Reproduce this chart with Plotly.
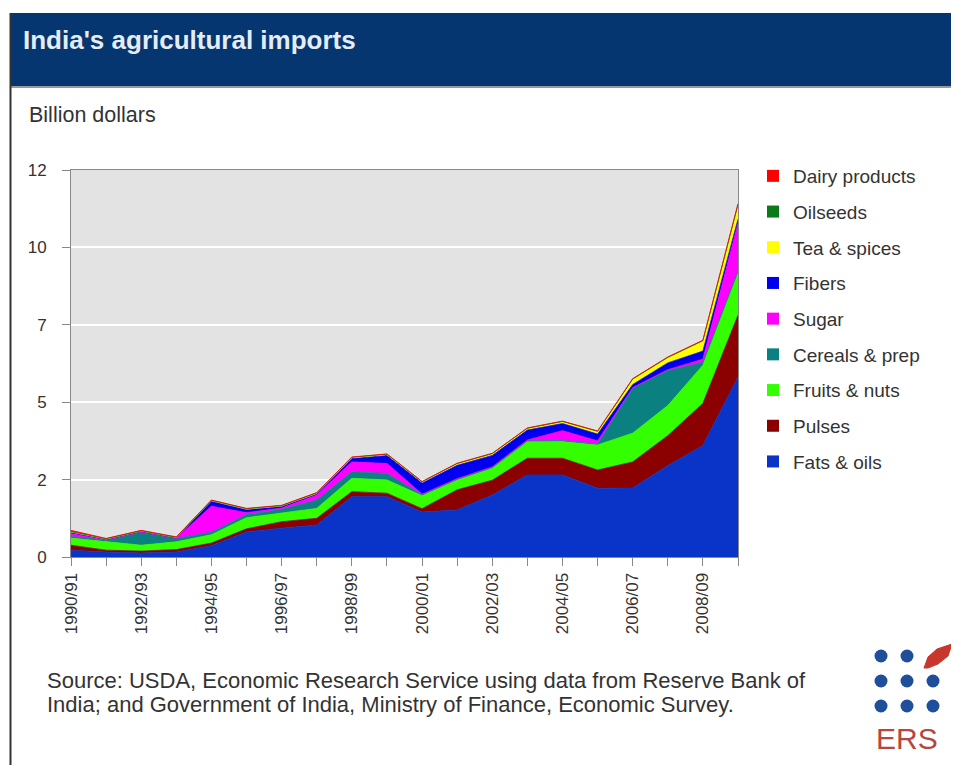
import plotly.graph_objects as go

years = ['1990/91', '1991/92', '1992/93', '1993/94', '1994/95', '1995/96', '1996/97',
         '1997/98', '1998/99', '1999/00', '2000/01', '2001/02', '2002/03', '2003/04',
         '2004/05', '2005/06', '2006/07', '2007/08', '2008/09', '2009/10']

fats_oils = [0.22, 0.16, 0.13, 0.16, 0.36, 0.81, 0.93, 1.03, 1.95, 1.95,
             1.45, 1.52, 2.00, 2.65, 2.65, 2.22, 2.23, 2.95, 3.60, 5.81]
pulses = [0.16, 0.06, 0.06, 0.08, 0.09, 0.10, 0.21, 0.22, 0.16, 0.11,
          0.11, 0.65, 0.48, 0.54, 0.54, 0.59, 0.84, 0.97, 1.36, 2.00]
fruits_nuts = [0.23, 0.27, 0.19, 0.25, 0.27, 0.36, 0.27, 0.32, 0.43, 0.43,
               0.42, 0.32, 0.39, 0.54, 0.54, 0.81, 0.93, 0.97, 1.23, 1.36]
cereals = [0.05, 0.05, 0.43, 0.11, 0.08, 0.10, 0.13, 0.27, 0.21, 0.21,
           0.03, 0.02, 0.02, 0.02, 0.03, 0.03, 1.45, 1.13, 0.10, 0.06]
sugar = [0.10, 0.01, 0.00, 0.00, 0.84, 0.06, 0.04, 0.16, 0.32, 0.32,
         0.02, 0.02, 0.02, 0.03, 0.32, 0.10, 0.02, 0.03, 0.10, 1.55]
fibers = [0.03, 0.02, 0.02, 0.02, 0.16, 0.10, 0.05, 0.03, 0.11, 0.26,
          0.36, 0.43, 0.37, 0.32, 0.23, 0.22, 0.10, 0.22, 0.26, 0.13]
tea_spices = [0.02, 0.01, 0.01, 0.01, 0.02, 0.02, 0.02, 0.03, 0.03, 0.03,
              0.03, 0.05, 0.05, 0.05, 0.06, 0.08, 0.16, 0.16, 0.32, 0.45]
oilseeds = [0.01, 0.01, 0.01, 0.01, 0.01, 0.01, 0.01, 0.01, 0.01, 0.01,
            0.01, 0.01, 0.01, 0.01, 0.01, 0.01, 0.02, 0.02, 0.02, 0.03]
dairy = [0.04, 0.01, 0.01, 0.01, 0.01, 0.01, 0.01, 0.01, 0.01, 0.01,
         0.01, 0.01, 0.01, 0.01, 0.01, 0.01, 0.01, 0.01, 0.01, 0.02]

y_tickvals = [0, 2.5, 5, 7.5, 10, 12.5]
y_ticktext = ['0', '2', '5', '7', '10', '12']

series = [
    ('Fats & oils', fats_oils, '#0a33c8'),
    ('Pulses', pulses, '#8b0000'),
    ('Fruits & nuts', fruits_nuts, '#33ff00'),
    ('Cereals & prep', cereals, '#0a8080'),
    ('Sugar', sugar, '#ff00ff'),
    ('Fibers', fibers, '#0000ee'),
    ('Tea & spices', tea_spices, '#ffff00'),
    ('Oilseeds', oilseeds, '#0a7a1a'),
    ('Dairy products', dairy, '#ff0000'),
]

# the page body has an 8px margin, so the figure sits at (8, 8) in the window
OFF = 8
SW, SH = 959, 765            # window size
L, R, T, B = 71, 738, 170, 557   # plot area in window pixels
W, H = SW - OFF, SH - OFF


def px(x):
    return (x - L) / (R - L)


def py(y):
    return (B - y) / (B - T)


fig = go.Figure()
for name, vals, col in series:
    fig.add_trace(go.Scatter(
        x=years, y=vals, name=name, mode='lines', stackgroup='one',
        line=dict(color=col, width=0.8), fillcolor=col, showlegend=False,
        hoverinfo='x+y+name'))
# legend entries, top of stack first
for name, vals, col in reversed(series):
    fig.add_trace(go.Scatter(
        x=[None], y=[None], name=name, mode='markers',
        marker=dict(symbol='square', size=11, color=col),
        legendgroup=name, showlegend=True))

font_fam = 'Liberation Sans, Arial, sans-serif'

shapes = [
    # header bar
    dict(type='rect', xref='paper', yref='paper', x0=px(10), x1=px(959),
         y0=py(86), y1=py(13), fillcolor='#063670', line=dict(width=0), layer='above'),
    dict(type='line', xref='paper', yref='paper', x0=px(10), x1=px(959),
         y0=py(87), y1=py(87), line=dict(color='#9a9a9a', width=2)),
    # left border
    dict(type='line', xref='paper', yref='paper', x0=px(10.5), x1=px(10.5),
         y0=py(13), y1=py(765), line=dict(color='#333333', width=2)),
]
# ERS logo dots
dot_cols = [881, 907, 933]
dot_rows = [656, 681, 706]
for r_i, yy in enumerate(dot_rows):
    for c_i, xx in enumerate(dot_cols):
        if r_i == 0 and c_i == 2:
            continue
        shapes.append(dict(type='circle', xref='paper', yref='paper',
                           x0=px(xx - 6.5), x1=px(xx + 6.5), y0=py(yy + 6.5), y1=py(yy - 6.5),
                           fillcolor='#1f4f9a', line=dict(width=0)))
# leaf
lx = [924, 928, 937, 952, 948, 938, 928]
ly = [668, 657, 649, 644, 656, 664, 668]
path = 'M ' + ' L '.join(f'{px(a)},{py(b)}' for a, b in zip(lx, ly)) + ' Z'
shapes.append(dict(type='path', xref='paper', yref='paper', path=path,
                   fillcolor='#c8372d', line=dict(color='#c8372d', width=1)))

annotations = [
    dict(text="India's agricultural imports", xref='paper', yref='paper',
         x=px(21), y=py(40), xanchor='left', yanchor='middle', showarrow=False,
         font=dict(family=font_fam, size=26, color='#e4ecf6', weight='bold')),
    dict(text='Billion dollars', xref='paper', yref='paper',
         x=px(27), y=py(115), xanchor='left', yanchor='middle', showarrow=False,
         font=dict(family=font_fam, size=21.5, color='#333333')),
    dict(text='Source: USDA, Economic Research Service using data from Reserve Bank of',
         xref='paper', yref='paper', x=px(45), y=py(680), xanchor='left', yanchor='middle',
         showarrow=False, font=dict(family=font_fam, size=22, color='#333333')),
    dict(text='India; and Government of India, Ministry of Finance, Economic Survey.',
         xref='paper', yref='paper', x=px(45), y=py(704), xanchor='left', yanchor='middle',
         showarrow=False, font=dict(family=font_fam, size=22, color='#333333')),
    dict(text='ERS', xref='paper', yref='paper', x=px(907), y=py(738),
         xanchor='center', yanchor='middle', showarrow=False,
         font=dict(family=font_fam, size=30, color='#b5473f')),
]

fig.update_layout(
    width=W, height=H,
    margin=dict(l=L - OFF, r=SW - R, t=T - OFF, b=SH - B, pad=0),
    paper_bgcolor='white', plot_bgcolor='#e3e3e3',
    font=dict(family=font_fam, size=16, color='#333333'),
    showlegend=True,
    legend=dict(x=px(753), y=py(157), xanchor='left', yanchor='top',
                traceorder='grouped', tracegroupgap=8,
                font=dict(family=font_fam, size=19, color='#333333'),
                bgcolor='rgba(0,0,0,0)', itemsizing='constant'),
    shapes=shapes, annotations=annotations,
    xaxis=dict(type='category', range=[0, 19], tickangle=-90, ticks='outside',
               ticklen=8, tickcolor='#888888', ticklabelstep=2, showgrid=False,
               showline=True, linecolor='#888888', mirror=True,
               tickfont=dict(size=17, color='#333333'), zeroline=False),
    yaxis=dict(range=[0, 12.5], tickvals=y_tickvals, ticktext=y_ticktext,
               ticks='outside', ticklen=8, tickcolor='#888888', showgrid=True,
               gridcolor='white', gridwidth=2, showline=True, linecolor='#888888',
               mirror=True, zeroline=False, ticklabelstandoff=12,
               tickfont=dict(size=17, color='#333333')),
)

fig.write_html('out.html')
